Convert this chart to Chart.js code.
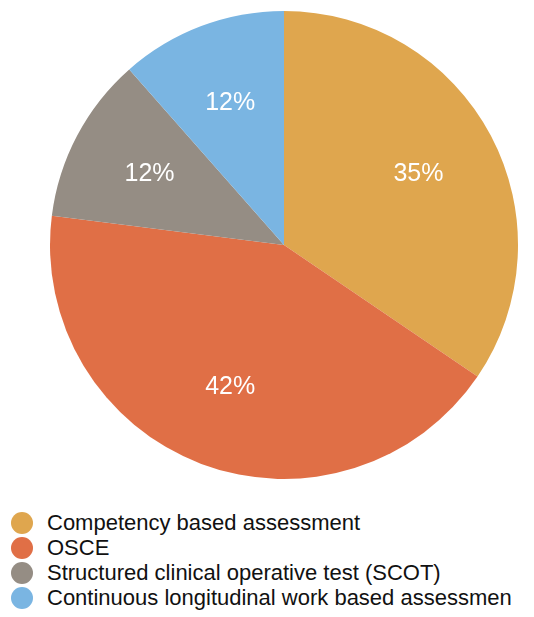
<!DOCTYPE html>
<html>
<head>
<meta charset="utf-8">
<script src="https://cdn.jsdelivr.net/npm/chart.js@4"></script>
<style>
  body { margin: 0; background: #fff; font-family: "Liberation Sans", Arial, sans-serif; }
  #wrap { position: relative; width: 534px; height: 490px; }
  #legend { position: absolute; left: 0; top: 510px; width: 534px; overflow: hidden; }
  .item { position: relative; height: 25px; line-height: 25px; white-space: nowrap; font-size: 22px; color: #111; }
  .dot { position: absolute; left: 11px; top: 2px; width: 22px; height: 22px; border-radius: 50%; }
  .txt { position: absolute; left: 47px; top: 0; }
</style>
</head>
<body>
<div id="wrap"><canvas id="pie"></canvas></div>
<div id="legend"></div>
<script>
const categories = ['Competency based assessment', 'OSCE', 'Structured clinical operative test (SCOT)', 'Continuous longitudinal work based assessmen'];
const values = [34.5, 42.5, 11.5, 11.5];
const valueLabels = ['35%', '42%', '12%', '12%'];
const colors = ['#DFA64E', '#E06F46', '#958D84', '#7AB5E2'];

// percentages drawn inside each slice
const sliceLabels = {
    id: 'sliceLabels',
    afterDatasetsDraw(chart) {
        const ctx = chart.ctx;
        const meta = chart.getDatasetMeta(0);
        ctx.save();
        ctx.fillStyle = '#fff';
        ctx.font = '25px "Liberation Sans", Arial, sans-serif';
        ctx.textAlign = 'center';
        ctx.textBaseline = 'middle';
        meta.data.forEach((arc, i) => {
            const mid = (arc.startAngle + arc.endAngle) / 2;
            const r = arc.outerRadius * 0.65;
            ctx.fillText(valueLabels[i], arc.x + Math.cos(mid) * r, arc.y + Math.sin(mid) * r);
        });
        ctx.restore();
    }
};

new Chart(document.getElementById('pie'), {
    type: 'pie',
    data: {
        labels: categories,
        datasets: [{
            data: values,
            backgroundColor: colors,
            borderWidth: 0
        }]
    },
    options: {
        responsive: true,
        maintainAspectRatio: false,
        animation: false,
        layout: { padding: { left: 34, top: 11, bottom: 11 } },
        plugins: {
            legend: { display: false },
            tooltip: { enabled: false }
        }
    },
    plugins: [sliceLabels]
});

const legendEl = document.getElementById('legend');
categories.forEach((name, i) => {
    const row = document.createElement('div');
    row.className = 'item';
    row.innerHTML = '<span class="dot" style="background:' + colors[i] + '"></span><span class="txt">' + name + '</span>';
    legendEl.appendChild(row);
});
</script>
</body>
</html>
